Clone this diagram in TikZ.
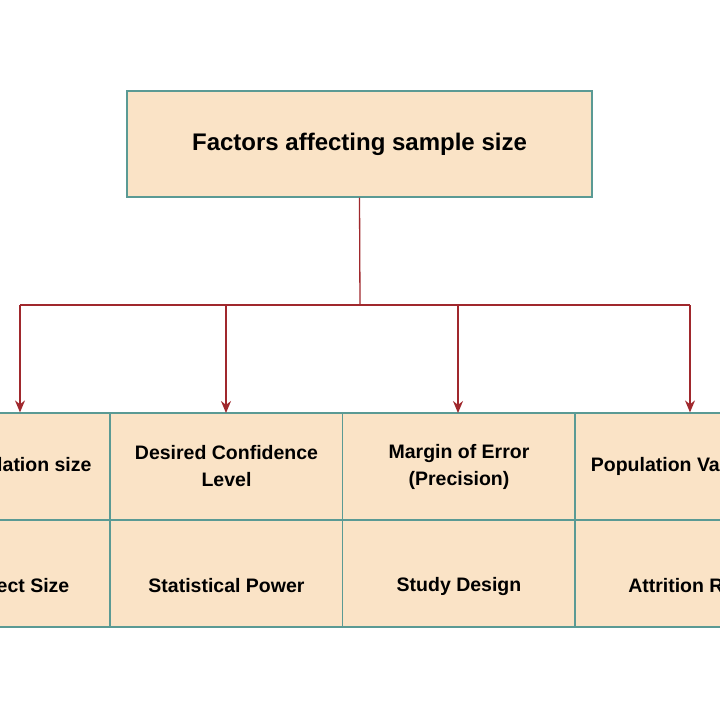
\documentclass[tikz,border=0pt]{standalone}
\usepackage{fontspec}
\setmainfont{Liberation Sans}
\usetikzlibrary{arrows.meta}
\definecolor{fillc}{HTML}{FAE3C6}
\definecolor{edgec}{HTML}{5A9A94}
\definecolor{linec}{HTML}{A0282D}
\begin{document}
\begin{tikzpicture}[x=1pt,y=-1pt,
  box/.style={draw=edgec,fill=fillc,line width=1.2pt,inner sep=0pt,align=center,font=\fontsize{19.5}{27}\selectfont\bfseries},
  conn/.style={draw=linec,line width=1.3pt},
  arr/.style={conn,-{Stealth[length=12pt,width=10pt]}}]
\useasboundingbox (0,0) rectangle (720,720);
\clip (0,0) rectangle (720,720);
\fill[white] (0,0) rectangle (720,720);
\node[box,minimum width=465pt,minimum height=106pt,font=\fontsize{24}{30}\selectfont\bfseries] (top) at (359.5,144) {Factors affecting sample size};
\foreach \n/\cx/\w/\t in {a/20/180/Population size,b/226.5/233/{Desired Confidence\\Level},c/459/233/{Margin of Error\\(Precision)},d/690/230/Population Variability}{
  \node[box,minimum width=\w pt,minimum height=107pt] (\n1) at (\cx,466.5) {\t};
}
\foreach \n/\cx/\w/\t in {a/20/180/Effect Size,b/226.5/233/Statistical Power,c/459/233/Study Design,d/690/230/Attrition Rate}{
  \node[box,minimum width=\w pt,minimum height=107pt] (\n2) at (\cx,573.5) {};
  \node[font=\fontsize{19.5}{27}\selectfont\bfseries,inner sep=0pt] at (\cx,586) {\t};
}
\coordinate (j) at (360,305);
\coordinate (ja) at (20,305);
\coordinate (jd) at (690,305);
\draw[conn] (top.south) -- (j);
\draw[conn] (ja) -- (jd);
\draw[arr] (ja) -- (ja|-a1.north);
\draw[arr] (226,305) -- (226,413);
\draw[arr] (458,305) -- (458,413);
\draw[arr] (jd) -- (jd|-d1.north);
\end{tikzpicture}
\end{document}
